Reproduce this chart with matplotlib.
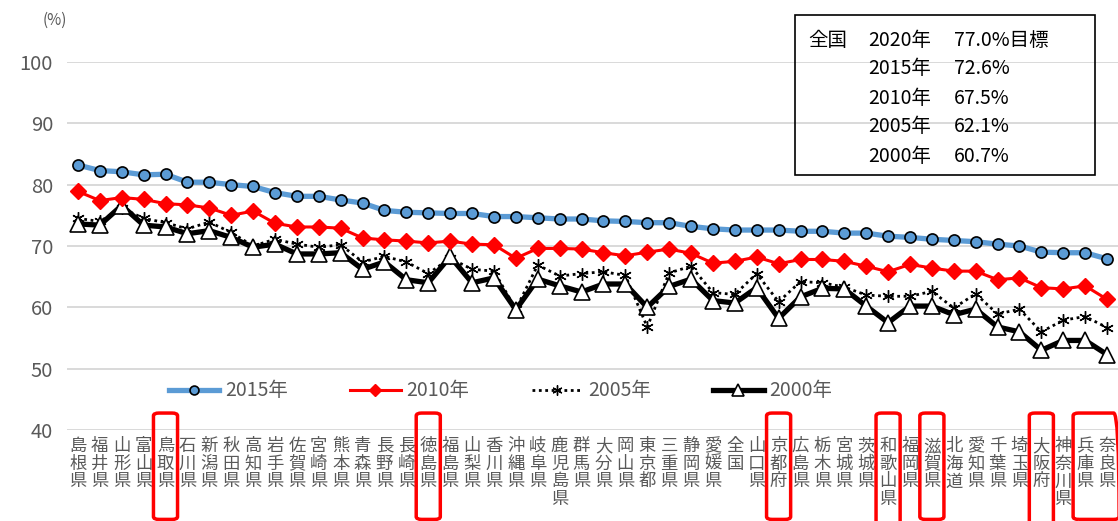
import numpy as np
import matplotlib
matplotlib.use("Agg")
import matplotlib.pyplot as plt
from matplotlib.patches import FancyBboxPatch, Rectangle
from matplotlib.transforms import blended_transform_factory

plt.rcParams['font.family'] = ['Noto Sans CJK JP', 'DejaVu Sans']

# 都道府県（2015年の値の高い順）
prefs = ['島根県', '福井県', '山形県', '富山県', '鳥取県', '石川県', '新潟県', '秋田県',
         '高知県', '岩手県', '佐賀県', '宮崎県', '熊本県', '青森県', '長野県', '長崎県',
         '徳島県', '福島県', '山梨県', '香川県', '沖縄県', '岐阜県', '鹿児島県', '群馬県',
         '大分県', '岡山県', '東京都', '三重県', '静岡県', '愛媛県', '全国', '山口県',
         '京都府', '広島県', '栃木県', '宮城県', '茨城県', '和歌山県', '福岡県', '滋賀県',
         '北海道', '愛知県', '千葉県', '埼玉県', '大阪府', '神奈川県', '兵庫県', '奈良県']

v2015 = [83.2, 82.3, 82.1, 81.6, 81.7, 80.4, 80.4, 80.0, 79.7, 78.7, 78.1, 78.1,
         77.5, 77.0, 75.8, 75.5, 75.4, 75.3, 75.3, 74.8, 74.8, 74.6, 74.4, 74.4,
         74.1, 74.0, 73.8, 73.8, 73.2, 72.8, 72.6, 72.6, 72.6, 72.4, 72.4, 72.1,
         72.1, 71.6, 71.4, 71.1, 70.9, 70.7, 70.3, 70.0, 69.0, 68.9, 68.9, 67.9]
v2010 = [78.9, 77.4, 77.9, 77.6, 76.9, 76.7, 76.2, 75.0, 75.7, 73.7, 73.1, 73.1,
         72.9, 71.3, 71.0, 70.8, 70.5, 70.8, 70.3, 70.2, 68.0, 69.6, 69.6, 69.5,
         68.9, 68.4, 69.0, 69.5, 68.8, 67.2, 67.5, 68.2, 67.1, 67.8, 67.8, 67.5,
         66.7, 65.8, 67.0, 66.4, 65.9, 65.9, 64.5, 64.8, 63.2, 63.0, 63.5, 61.3]
v2005 = [74.5, 74.0, 76.2, 74.5, 73.8, 72.8, 73.9, 72.2, 70.0, 71.1, 70.3, 69.8,
         70.2, 67.4, 68.3, 67.4, 65.5, 68.0, 66.2, 65.9, 59.7, 66.9, 65.1, 65.5,
         65.8, 65.2, 56.8, 65.6, 66.7, 62.4, 62.1, 65.5, 60.9, 64.2, 64.0, 63.3,
         62.0, 61.8, 61.8, 62.6, 59.9, 62.2, 58.9, 59.7, 56.0, 57.9, 58.5, 56.7]
v2000 = [73.6, 73.4, 76.6, 73.4, 73.1, 72.0, 72.5, 71.4, 69.8, 70.3, 68.7, 68.7,
         68.9, 66.2, 67.4, 64.5, 64.0, 68.3, 64.0, 64.8, 59.6, 64.6, 63.5, 62.5,
         63.8, 63.8, 60.0, 63.4, 64.6, 61.1, 60.7, 63.2, 58.2, 61.7, 63.1, 63.0,
         60.2, 57.5, 60.2, 60.2, 58.8, 59.7, 56.8, 56.0, 53.0, 54.6, 54.6, 52.3]

target_2020 = 77.0

# 赤枠で囲む県（複数県をまとめて囲む場合はタプル）
marked = [('鳥取県',), ('徳島県',), ('京都府',), ('和歌山県',), ('滋賀県',),
          ('大阪府',), ('兵庫県', '奈良県')]

gray = '#595959'
x = np.arange(len(prefs))

fig = plt.figure(figsize=(11.18, 5.21), dpi=100)
ax = fig.add_axes([0.0599, 0.1747, 0.9401, 0.7063])

ax.plot(x, v2015, color='#5B9BD5', lw=3.8, marker='o', ms=8,
        mfc='#5B9BD5', mec='black', mew=1.2, label='2015年', zorder=4)
ax.plot(x, v2010, color='#FF0000', lw=2.2, marker='D', ms=8,
        mfc='#FF0000', mec='#FF0000', label='2010年', zorder=3)
ax.plot(x, v2005, color='black', lw=2.0, ls=(0, (1, 1.3)), marker=(6, 2, 0), ms=9,
        mew=1.0, mec='black', label='2005年', zorder=2)
ax.plot(x, v2000, color='black', lw=3.8, marker='^', ms=11,
        mfc='white', mec='black', mew=1.2, label='2000年', zorder=2)

ax.set_xlim(-0.5, len(prefs) - 0.5)
ax.set_ylim(40, 100)
ax.set_yticks(range(40, 101, 10))
ax.grid(axis='y', color='#D9D9D9', lw=1.4, zorder=0)
ax.set_axisbelow(True)
for s in ax.spines.values():
    s.set_visible(False)
ax.tick_params(axis='y', length=0, pad=10, labelsize=14.5, labelcolor=gray)
ax.tick_params(axis='x', length=0, pad=5)

ax.set_xticks(x)
ax.set_xticklabels(['\n'.join(p) for p in prefs], fontsize=12.5, color=gray,
                   linespacing=0.98, va='top')

fig.text(55 / 1118, 1 - 20 / 521, '(%)', fontsize=11, color=gray,
         ha='center', va='center')

leg = ax.legend(loc='lower left', bbox_to_anchor=(0.08, 0.03), ncol=4,
                frameon=False, fontsize=14, handlelength=2.6, columnspacing=3.2,
                handletextpad=0.3, markerscale=0.8)
for t in leg.get_texts():
    t.set_color(gray)

# 赤枠
trans = blended_transform_factory(ax.transData, ax.transAxes)
for group in marked:
    idx = [prefs.index(p) for p in group]
    left = min(idx) - 0.55
    width = max(idx) - min(idx) + 1.1
    tall = max(len(p) for p in group) > 3 or '大阪府' in group
    bottom = -0.32 if tall else -0.243
    box = FancyBboxPatch((left, bottom), width, 0.046 - bottom,
                         boxstyle='round,pad=0,rounding_size=0.25',
                         transform=trans, fill=False, ec='#FF0000', lw=2.5,
                         clip_on=False, mutation_aspect=0.03)
    ax.add_patch(box)

# 全国の値の囲み
i_all = prefs.index('全国')
fig.patches.append(Rectangle((795 / 1118, 1 - 175 / 521), 300 / 1118, 160 / 521,
                             transform=fig.transFigure, fill=False,
                             ec='black', lw=1.2))
rows = [('全国', '2020年', f'{target_2020:.1f}%目標'),
        ('', '2015年', f'{v2015[i_all]:.1f}%'),
        ('', '2010年', f'{v2010[i_all]:.1f}%'),
        ('', '2005年', f'{v2005[i_all]:.1f}%'),
        ('', '2000年', f'{v2000[i_all]:.1f}%')]
for k, (a, b, c) in enumerate(rows):
    yy = 1 - (40 + k * 29) / 521
    fig.text(808 / 1118, yy, a, fontsize=14, va='center')
    fig.text(868 / 1118, yy, b, fontsize=14, va='center')
    fig.text(954 / 1118, yy, c, fontsize=14, va='center')

fig.savefig('out.png', dpi=100)
